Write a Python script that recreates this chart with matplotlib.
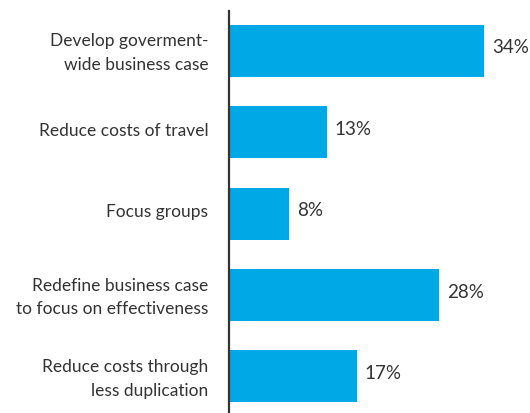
import matplotlib.pyplot as plt
from matplotlib.transforms import offset_copy

categories = [
    "Develop goverment-\nwide business case",
    "Reduce costs of travel",
    "Focus groups",
    "Redefine business case\nto focus on effectiveness",
    "Reduce costs through\nless duplication",
]
values = [34, 13, 8, 28, 17]

bar_color = "#00A9E6"
text_color = "#333333"

plt.rcParams["font.family"] = ["Lato", "DejaVu Sans"]

fig = plt.figure(figsize=(5.30, 4.14), dpi=100)
ax = fig.add_axes([229 / 530, 0, 301 / 530, 402 / 414])

y = list(range(len(categories)))
ax.barh(y, values, height=0.64, color=bar_color, edgecolor="none")

# value labels sit a little above the bar centre
val_trans = offset_copy(ax.transData, fig=fig, x=0, y=4, units="dots")
for yi, v in zip(y, values):
    ax.text(v + 1.05, yi, f"{v}%", va="center", ha="left",
            fontsize=13.5, color=text_color, transform=val_trans)

ax.set_xlim(0, 301 / 7.5)
ax.set_ylim(4.45, -0.49)

ax.set_yticks(y)
ax.set_yticklabels(categories, fontsize=12.5, color=text_color, linespacing=1.6)
ax.tick_params(axis="y", length=0, pad=15)
for lbl in ax.get_yticklabels():
    lbl.set_transform(offset_copy(lbl.get_transform(), fig=fig, x=0, y=4, units="dots"))
ax.set_xticks([])

for side in ["top", "right", "bottom"]:
    ax.spines[side].set_visible(False)
ax.spines["left"].set_color("#333333")
ax.spines["left"].set_linewidth(1.6)

fig.savefig("out.png", dpi=100)
